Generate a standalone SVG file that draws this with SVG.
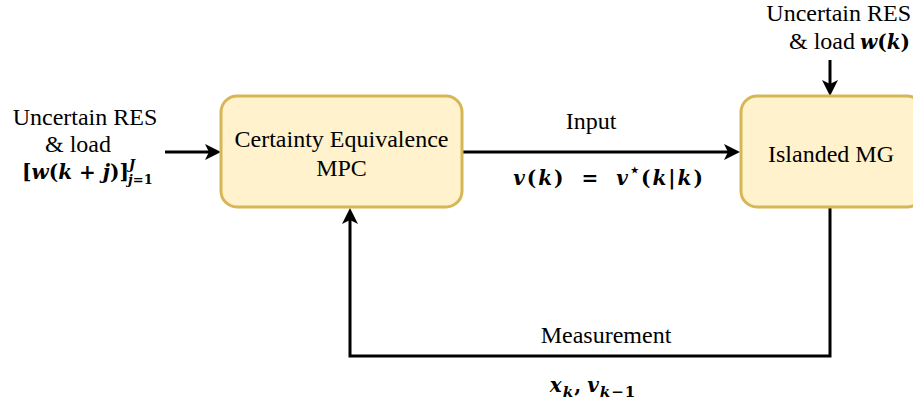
<svg xmlns="http://www.w3.org/2000/svg" width="913" height="401" viewBox="0 0 913 401">
<style>
.box{fill:#fff2cc;stroke:#d6b656;stroke-width:3}
.t{font-family:"Liberation Serif","Times New Roman",serif;font-size:24px;fill:#000}
.m{font-family:"DejaVu Serif",serif;font-size:20px;font-weight:bold;fill:#000}
.i{font-style:italic}
.c{stroke:#000;stroke-width:3;fill:none}
</style>
<rect width="913" height="401" fill="#fff"/>
<g id="connectors">
<path class="c" d="M165,152 H212"/>
<path d="M221,152 L205,144 L209,152 L205,160 Z"/>
<path class="c" d="M463,152 H731"/>
<path d="M740,152 L724,144 L728,152 L724,160 Z"/>
<path class="c" d="M830,60 V87"/>
<path d="M830,96 L822,80 L830,84 L838,80 Z"/>
<path class="c" d="M830,208 V356 H350 V218"/>
<path d="M350,208 L342,224 L350,220 L358,224 Z"/>
</g>
<g id="mpc">
<rect class="box" x="221" y="96" width="241" height="111" rx="16"/>
<text class="t" x="341.5" y="147" text-anchor="middle">Certainty Equivalence</text>
<text class="t" x="341.5" y="176" text-anchor="middle">MPC</text>
</g>
<g id="mg">
<rect class="box" x="741" y="96" width="182" height="111" rx="16"/>
<text class="t" x="831" y="162" text-anchor="middle">Islanded MG</text>
</g>
<g id="labels">
<text class="t" x="85" y="125" text-anchor="middle">Uncertain RES</text>
<text class="t" x="78" y="152" text-anchor="middle">&amp;  load</text>
<text class="m" x="22" y="179">[<tspan class="i">w</tspan>(<tspan class="i">k</tspan> + <tspan class="i">j</tspan>)]<tspan class="i" font-size="13" dy="-10">J</tspan><tspan class="i" font-size="13" dx="-7" dy="15">j</tspan><tspan font-size="13">=1</tspan></text>
<text class="t" x="911" y="21" text-anchor="end">Uncertain RES</text>
<text class="t" x="789" y="49">&amp; load</text>
<text class="m" x="910" y="49" text-anchor="end"><tspan class="i">w</tspan>(<tspan class="i">k</tspan>)</text>
<text class="t" x="591" y="129" text-anchor="middle">Input</text>
<text class="m" x="609" y="185" font-size="24" letter-spacing="2" text-anchor="middle"><tspan class="i">v</tspan>(<tspan class="i">k</tspan>)<tspan dx="16">=</tspan><tspan class="i" dx="16">v</tspan><tspan font-size="15" dy="-10">⋆</tspan><tspan dy="10">(</tspan><tspan class="i">k</tspan>|<tspan class="i">k</tspan>)</text>
<text class="t" x="606" y="343" text-anchor="middle">Measurement</text>
<text class="m" x="593" y="392" font-size="22" letter-spacing="1" text-anchor="middle"><tspan class="i">x</tspan><tspan class="i" font-size="15" dy="5">k</tspan><tspan dy="-5">,</tspan><tspan class="i" dx="5">v</tspan><tspan class="i" font-size="15" dy="5">k</tspan><tspan font-size="15">−1</tspan></text>
</g>
</svg>
